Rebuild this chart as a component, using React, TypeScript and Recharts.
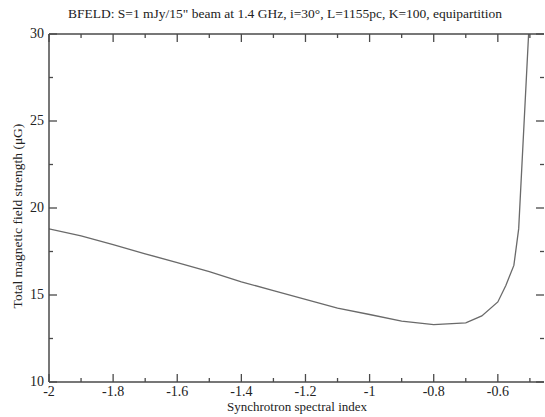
import React from "react";
import { LineChart, Line, XAxis, YAxis } from "recharts";

// spectral index vs total field
const alpha = [
  -2, -1.9, -1.8, -1.7, -1.6, -1.5, -1.4, -1.3, -1.2, -1.1, -1.0, -0.9, -0.8,
  -0.7, -0.65, -0.6, -0.575, -0.55, -0.535, -0.504,
];
const bField = [
  18.8, 18.4, 17.9, 17.37, 16.86, 16.34, 15.76, 15.25, 14.75, 14.25, 13.88,
  13.5, 13.3, 13.4, 13.8, 14.6, 15.55, 16.7, 18.8, 30,
];

const xMajor = [-2, -1.8, -1.6, -1.4, -1.2, -1, -0.8, -0.6];
const xMinor = [-1.9, -1.7, -1.5, -1.3, -1.1, -0.9, -0.7, -0.5];
const yMajor = [10, 15, 20, 25, 30];
const yMinor = [12.5, 17.5, 22.5, 27.5];

const data = alpha.map((a, i) => ({ a, b: bField[i] }));

const xTicks = [...xMajor, ...xMinor].sort((p, q) => p - q);
const yTicks = [...yMajor, ...yMinor].sort((p, q) => p - q);

const AXIS = "#4a4a4a";
const FONT = '"Liberation Serif", "Times New Roman", serif';
const labelStyle = { fontFamily: FONT, fontSize: 14, fill: "#222" };

const isMajor = (list: number[], v: number) =>
  list.some((m) => Math.abs(m - v) < 1e-6);

const BottomTick = (props: any) => {
  const { x, y, payload } = props;
  const major = isMajor(xMajor, payload.value);
  return (
    <g>
      <line x1={x} x2={x} y1={y} y2={y - (major ? 8 : 4)} stroke={AXIS} strokeWidth={1.3} />
      {major && (
        <text x={x} y={y + 14} textAnchor="middle" style={labelStyle}>
          {String(payload.value)}
        </text>
      )}
    </g>
  );
};

const TopTick = (props: any) => {
  const { x, y, payload } = props;
  const major = isMajor(xMajor, payload.value);
  return <line x1={x} x2={x} y1={y} y2={y + (major ? 8 : 4)} stroke={AXIS} strokeWidth={1.3} />;
};

const LeftTick = (props: any) => {
  const { x, y, payload } = props;
  const major = isMajor(yMajor, payload.value);
  return (
    <g>
      <line x1={x} x2={x + (major ? 8 : 4)} y1={y} y2={y} stroke={AXIS} strokeWidth={1.3} />
      {major && (
        <text x={x - 5} y={y + 4} textAnchor="end" style={labelStyle}>
          {String(payload.value)}
        </text>
      )}
    </g>
  );
};

const RightTick = (props: any) => {
  const { x, y, payload } = props;
  const major = isMajor(yMajor, payload.value);
  return <line x1={x} x2={x - (major ? 8 : 4)} y1={y} y2={y} stroke={AXIS} strokeWidth={1.3} />;
};

export default function App() {
  return (
    <div style={{ position: "absolute", left: 0, top: 0, width: 545, height: 417, background: "#fff", fontFamily: FONT }}>
      <div style={{ position: "absolute", left: 0, width: 570, top: 7, lineHeight: "14px", textAlign: "center", fontSize: 13.5, color: "#222", whiteSpace: "nowrap" }}>
        BFELD: S=1 mJy/15" beam at 1.4 GHz, i=30°, L=1155pc, K=100, equipartition
      </div>
      <div
        style={{
          position: "absolute",
          left: 18,
          top: 216,
          transform: "translate(-50%, -50%) rotate(-90deg)",
          whiteSpace: "nowrap",
          lineHeight: "14px",
          fontSize: 13.5,
          color: "#222",
        }}
      >
        Total magnetic field strength (μG)
      </div>
      <div style={{ position: "absolute", left: 49, width: 496, top: 400, lineHeight: "13px", textAlign: "center", fontSize: 13, color: "#222" }}>
        Synchrotron spectral index
      </div>
      <LineChart width={545} height={417} data={data} margin={{ top: 4, right: 0, bottom: 0, left: 0 }}>
        <XAxis
          xAxisId="bottom"
          dataKey="a"
          type="number"
          domain={[-2, -0.456]}
          ticks={xTicks}
          interval={0}
          allowDataOverflow
          height={35}
          tickSize={0}
          tickMargin={0}
          tickLine={false}
          tick={<BottomTick />}
          axisLine={{ stroke: AXIS, strokeWidth: 1.5 }}
        />
        <XAxis
          xAxisId="top"
          orientation="top"
          dataKey="a"
          type="number"
          domain={[-2, -0.456]}
          ticks={xTicks}
          interval={0}
          allowDataOverflow
          height={30}
          tickSize={0}
          tickMargin={0}
          tickLine={false}
          tick={<TopTick />}
          axisLine={{ stroke: AXIS, strokeWidth: 1.5 }}
        />
        <YAxis
          yAxisId="left"
          type="number"
          domain={[10, 30]}
          ticks={yTicks}
          interval={0}
          allowDataOverflow
          width={49}
          tickSize={0}
          tickMargin={0}
          tickLine={false}
          tick={<LeftTick />}
          axisLine={{ stroke: AXIS, strokeWidth: 1.5 }}
        />
        <YAxis
          yAxisId="right"
          orientation="right"
          type="number"
          domain={[10, 30]}
          ticks={yTicks}
          interval={0}
          allowDataOverflow
          width={1}
          tickSize={0}
          tickMargin={0}
          tickLine={false}
          tick={<RightTick />}
          axisLine={false}
        />
        <Line
          xAxisId="bottom"
          yAxisId="left"
          dataKey="b"
          type="linear"
          stroke="#6a6a6a"
          strokeWidth={1.3}
          dot={false}
          isAnimationActive={false}
        />
      </LineChart>
    </div>
  );
}
